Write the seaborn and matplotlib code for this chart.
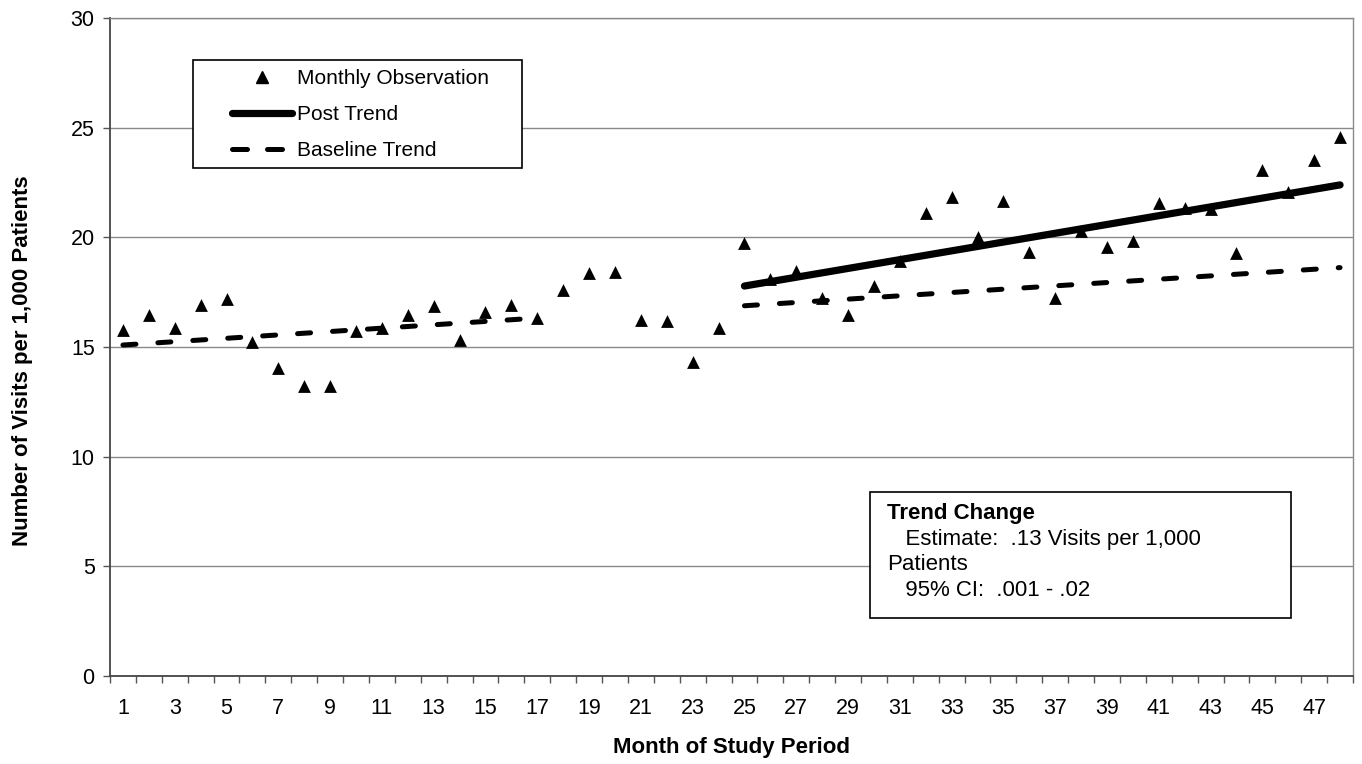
import matplotlib
matplotlib.use("Agg")
import matplotlib.pyplot as plt
from matplotlib.lines import Line2D
from matplotlib.patches import Rectangle
from matplotlib.ticker import FixedLocator
import numpy as np
import pandas as pd
import seaborn as sns

# ---- data ----
months = list(range(1, 49))
visits = [15.78, 16.46, 15.87, 16.92, 17.19, 15.23, 14.04, 13.22, 13.22, 15.73,
          15.87, 16.46, 16.87, 15.32, 16.60, 16.92, 16.32, 17.60, 18.38, 18.42,
          16.23, 16.19, 14.32, 15.87, 19.74, 18.10, 18.47, 17.24, 16.46, 17.78,
          18.92, 21.11, 21.84, 20.02, 21.66, 19.33, 17.24, 20.28, 19.56, 19.84,
          21.57, 21.34, 21.29, 19.29, 23.07, 22.07, 23.53, 24.58]

baseline_pre_months = [1, 17]
baseline_pre_values = [15.09, 16.32]
baseline_post_months = [25, 48]
baseline_post_values = [16.88, 18.62]
post_trend_months = [25, 48]
post_trend_values = [17.78, 22.39]

x_tick_labels = [str(m) for m in range(1, 48, 2)]
y_ticks = [0, 5, 10, 15, 20, 25, 30]

sns.set_theme(style="white")
plt.rcParams['font.family'] = ['Liberation Sans', 'DejaVu Sans']
plt.rcParams['text.color'] = 'black'
plt.rcParams['axes.labelcolor'] = 'black'
plt.rcParams['xtick.color'] = 'black'
plt.rcParams['ytick.color'] = 'black'

fig = plt.figure(figsize=(13.62, 7.64), dpi=100)
ax = fig.add_axes([110/1362, 88/764, 1243/1362, 658/764])

obs = pd.DataFrame({"month": months, "visits": visits})
sns.scatterplot(data=obs, x="month", y="visits", marker="^", s=85,
                color="black", edgecolor="black", linewidth=0, ax=ax, zorder=4)

dash = (2.6, 4.4)
for mx, my in [(baseline_pre_months, baseline_pre_values),
               (baseline_post_months, baseline_post_values)]:
    d = pd.DataFrame({"month": mx, "v": my})
    sns.lineplot(data=d, x="month", y="v", color="black", linewidth=3.6, ax=ax,
                 zorder=3)
    ln = ax.lines[-1]
    ln.set_dashes(dash)
    ln.set_dash_capstyle("round")

d = pd.DataFrame({"month": post_trend_months, "v": post_trend_values})
sns.lineplot(data=d, x="month", y="v", color="black", linewidth=5.2, ax=ax,
             zorder=3)
ax.lines[-1].set_solid_capstyle("round")

ax.set_xlim(0.5, 48.5)
ax.set_ylim(0, 30)
ax.set_yticks(y_ticks)
ax.set_yticklabels([str(v) for v in y_ticks], fontsize=15.5)
ax.set_xticks(list(range(1, 48, 2)))
ax.set_xticklabels(x_tick_labels, fontsize=15.5)
ax.xaxis.set_minor_locator(FixedLocator(np.arange(0.5, 48.6, 1)))
ax.tick_params(axis="x", which="major", length=0, pad=16)
ax.tick_params(axis="x", which="minor", length=5, width=1, color="#555555",
               bottom=True)
ax.tick_params(axis="y", which="major", length=5, width=1, color="#555555",
               left=True, pad=6)

ax.grid(axis="y", color="#8a8a8a", linewidth=1)
ax.set_axisbelow(True)
for side in ["left", "bottom"]:
    ax.spines[side].set_color("#444444")
    ax.spines[side].set_linewidth(1.3)
for side in ["right", "top"]:
    ax.spines[side].set_color("#8a8a8a")
    ax.spines[side].set_linewidth(1)

ax.set_xlabel("Month of Study Period", fontsize=16, fontweight="bold",
              labelpad=12.5)
ax.set_ylabel("Number of Visits per 1,000 Patients", fontsize=16,
              fontweight="bold")
ax.yaxis.set_label_coords((33-110)/1243, (676-361)/658)

# legend frame
ax.add_patch(Rectangle(((193-110)/1243, (676-168)/658), (522-193)/1243,
                       (168-60)/658, transform=ax.transAxes,
                       facecolor="white", edgecolor="black", linewidth=1.2,
                       zorder=5))
handles = [
    Line2D([], [], marker="^", color="black", linestyle="none", markersize=9),
    Line2D([], [], color="black", linewidth=5.2, solid_capstyle="round"),
    Line2D([], [], color="black", linewidth=3.6, dashes=(3.0, 4.0),
           dash_capstyle="round"),
]
labels = ["Monthly Observation", "Post Trend", "Baseline Trend"]
leg = ax.legend(handles, labels, loc="upper left",
                bbox_to_anchor=((232-110)/1243, (676-69)/658),
                borderaxespad=0, borderpad=0, frameon=False,
                fontsize=15, handlelength=2.9, handletextpad=0.2,
                labelspacing=0.82)
leg.set_zorder(6)

# text box
ax.add_patch(Rectangle(((870-110)/1243, (676-618)/658), (1291-870)/1243,
                       (618-492)/658, transform=ax.transAxes,
                       facecolor="white", edgecolor="black", linewidth=1.2,
                       zorder=6))
tx0 = (887-110)/1243
ax.text(tx0, (676-514)/658, "Trend Change", transform=ax.transAxes,
        fontsize=16, fontweight="bold", va="center", ha="left", zorder=7)
ax.text(tx0, (676-539)/658, "   Estimate:  .13 Visits per 1,000",
        transform=ax.transAxes, fontsize=16, va="center", ha="left", zorder=7)
ax.text(tx0, (676-564)/658, "Patients", transform=ax.transAxes,
        fontsize=16, va="center", ha="left", zorder=7)
ax.text(tx0, (676-590)/658, "   95% CI:  .001 - .02", transform=ax.transAxes,
        fontsize=16, va="center", ha="left", zorder=7)

fig.savefig("out.png", dpi=100, facecolor="white")
